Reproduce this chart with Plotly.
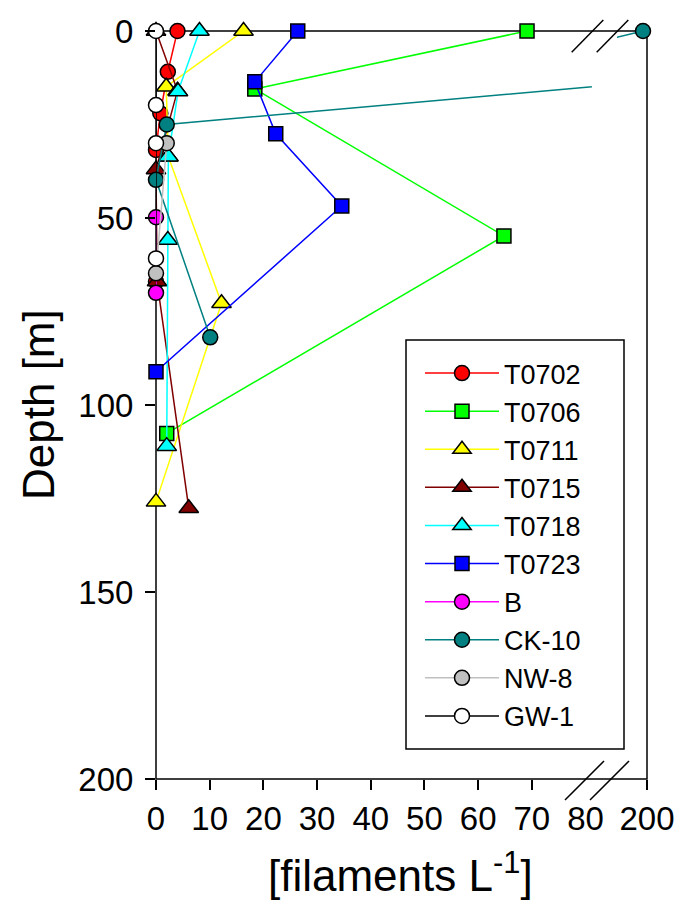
import plotly.graph_objects as go

# ---------------- data ----------------
series_names = ["T0702", "T0706", "T0711", "T0715", "T0718", "T0723", "B", "CK-10", "NW-8", "GW-1"]

t0702_conc = [4.0, 2.2, 0.8, 0.0, 0.0]
t0702_depth = [0, 10.9, 22.0, 31.8, 67.0]

t0706_conc = [69.1, 18.4, 64.8, 2.0]
t0706_depth = [0, 15.5, 54.8, 107.6]

t0711_conc = [16.3, 1.9, 2.3, 12.2, 0.0]
t0711_depth = [0, 14.9, 33.6, 72.8, 125.9]

t0715_conc = [0.0, 4.0, 0.0, 0.2, 6.1]
t0715_depth = [0, 16.0, 37.0, 67.0, 127.6]

t0718_conc = [8.1, 4.1, 2.3, 2.2, 2.0]
t0718_depth = [0, 16.2, 33.6, 55.9, 111.0]

t0723_conc = [26.4, 18.4, 22.3, 34.6, 0.0]
t0723_depth = [0, 13.6, 27.5, 46.8, 91.1]

b_conc = [0.0, 0.0]
b_depth = [49.8, 70.0]

ck10_conc = [198.0, 82.0, 2.0, 0.0, 10.1]
ck10_depth = [0, 14.9, 25.0, 39.8, 81.9]

nw8_conc = [2.0, 0.0]
nw8_depth = [30.0, 64.8]

gw1_conc = [0.0, 0.0, 0.0, 0.0]
gw1_depth = [0, 19.8, 30.0, 60.8]

x_ticks_left = [0, 10, 20, 30, 40, 50, 60, 70]
x_break_label = [80]
x_ticks_right = [200]
y_ticks = [0, 50, 100, 150, 200]

# ---------------- styling ----------------
FONT = "Liberation Sans, Arial, sans-serif"
styles = {
    "T0702": dict(mc="#FF0000", lc="#FF0000", sym="circle", size=15),
    "T0706": dict(mc="#00FF00", lc="#00FF00", sym="square", size=14),
    "T0711": dict(mc="#FFFF00", lc="#FFFF00", sym="triangle-up", size=17),
    "T0715": dict(mc="#800000", lc="#800000", sym="triangle-up", size=17),
    "T0718": dict(mc="#00FFFF", lc="#00FFFF", sym="triangle-up", size=17),
    "T0723": dict(mc="#0000FF", lc="#0000FF", sym="square", size=14),
    "B": dict(mc="#FF00FF", lc="#FF00FF", sym="circle", size=15),
    "CK-10": dict(mc="#008080", lc="#008080", sym="circle", size=15),
    "NW-8": dict(mc="#C0C0C0", lc="#C0C0C0", sym="circle", size=15),
    "GW-1": dict(mc="#FFFFFF", lc="#000000", sym="circle", size=15),
}
data = {
    "T0702": (t0702_conc, t0702_depth),
    "T0706": (t0706_conc, t0706_depth),
    "T0711": (t0711_conc, t0711_depth),
    "T0715": (t0715_conc, t0715_depth),
    "T0718": (t0718_conc, t0718_depth),
    "T0723": (t0723_conc, t0723_depth),
    "B": (b_conc, b_depth),
    "CK-10": (ck10_conc, ck10_depth),
    "NW-8": (nw8_conc, nw8_depth),
    "GW-1": (gw1_conc, gw1_depth),
}

# page is offset by the 8px body margin of the html page
OFF = 8
W, H = 687 - OFF, 903 - OFF
# plot area in page pixel coordinates
PL, PR, PT, PB = 156, 647, 31, 779
PW, PH = PR - PL, PB - PT
ML, MT = PL - OFF, PT - OFF
MR, MB = W - ML - PW, H - MT - PH


def px_x(p):
    return (p - PL) / PW


def px_y(p):
    return (PB - p) / PH


fig = go.Figure()
for name in series_names:
    xs, ys = data[name]
    st = styles[name]
    for ax in ("x", "x2"):
        fig.add_trace(go.Scatter(
            x=xs, y=ys, mode="lines+markers", name=name,
            xaxis=ax, yaxis="y", showlegend=(ax == "x"), legendgroup=name,
            line=dict(color=st["lc"], width=1.5),
            marker=dict(symbol=st["sym"], size=st["size"], color=st["mc"],
                        line=dict(color="black", width=1.5)),
            cliponaxis=False, hoverinfo="skip",
        ))

tickfont = dict(family=FONT, size=33, color="black")
left_end = px_x(592)
right_start = px_x(617)

fig.update_layout(
    width=W, height=H,
    margin=dict(l=ML, r=MR, t=MT, b=MB, pad=0, autoexpand=False),
    paper_bgcolor="white", plot_bgcolor="white",
    font=dict(family=FONT, color="black"),
    xaxis=dict(domain=[0, left_end], range=[0, 81.2], anchor="y", automargin=False,
               tickvals=x_ticks_left, ticks="outside", ticklen=10, tickwidth=1.5,
               tickcolor="black", showgrid=False, zeroline=False, showline=False,
               tickfont=tickfont),
    xaxis2=dict(domain=[right_start, 1], range=[185, 200], anchor="y", automargin=False,
                tickvals=x_ticks_right, ticks="outside", ticklen=10, tickwidth=1.5,
                tickcolor="black", showgrid=False, zeroline=False, showline=False,
                tickfont=tickfont),
    xaxis3=dict(domain=[0, left_end], range=[0, 81.2], anchor="y", overlaying="x",
                automargin=False,
                tickvals=x_break_label, ticks="outside", ticklen=10,
                tickcolor="rgba(0,0,0,0)", showgrid=False, zeroline=False,
                showline=False, tickfont=tickfont, side="bottom"),
    yaxis=dict(domain=[0, 1], range=[200, 0], anchor="x", tickvals=y_ticks,
               automargin=False,
               ticks="outside", ticklen=10, tickwidth=1.5, tickcolor="black",
               showgrid=False, zeroline=False, showline=False, tickfont=tickfont,
               ticklabelstandoff=5),
    showlegend=True,
    legend=dict(x=px_x(420), y=px_y(349), xanchor="left", yanchor="top",
                bgcolor="rgba(0,0,0,0)", borderwidth=0,
                font=dict(family=FONT, size=27, color="black"),
                itemwidth=74, tracegroupgap=0),
)
# invisible trace to activate xaxis3
fig.add_trace(go.Scatter(x=[None], y=[None], xaxis="x3", yaxis="y", showlegend=False,
                         mode="markers", hoverinfo="skip"))

shapes = []
# frame
shapes.append(dict(type="rect", xref="paper", yref="paper", x0=0, y0=0, x1=1, y1=1,
                   line=dict(color="black", width=1.5), layer="below"))
# legend box
shapes.append(dict(type="rect", xref="paper", yref="paper",
                   x0=px_x(406), x1=px_x(624), y0=px_y(749), y1=px_y(340),
                   line=dict(color="black", width=1.5), layer="above"))
# axis-break marks
for (x0, y0, x1, y1) in [(571.7, 52.3, 603.3, 20), (596.7, 52.3, 628.3, 20),
                         (565, 800, 604, 761), (590, 800, 629, 761)]:
    shapes.append(dict(type="line", xref="paper", yref="paper",
                       x0=px_x(x0), y0=px_y(y0), x1=px_x(x1), y1=px_y(y1),
                       line=dict(color="black", width=1.5), layer="above"))
fig.update_layout(shapes=shapes)

fig.add_annotation(text="[filaments L<sup>-1</sup>]", xref="paper", yref="paper",
                   x=px_x(400), y=px_y(872), xanchor="center", yanchor="middle",
                   showarrow=False, font=dict(family=FONT, size=44, color="black"))
fig.add_annotation(text="Depth [m]", xref="paper", yref="paper",
                   x=px_x(38), y=0.5, xanchor="center", yanchor="middle", textangle=-90,
                   showarrow=False, font=dict(family=FONT, size=44, color="black"))

fig.write_html("out.html")
